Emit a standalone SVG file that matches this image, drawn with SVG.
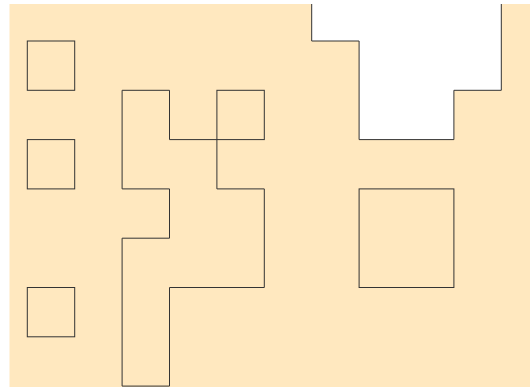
<svg xmlns="http://www.w3.org/2000/svg" width="530" height="387" viewBox="0 0 530 387">
<style>
.s{fill:none;stroke:#333;stroke-width:1}
</style>
<rect x="0" y="0" width="530" height="387" fill="#fff"/>
<rect id="ground" x="9.5" y="4" width="520.5" height="383" fill="#FFE8BF"/>
<g id="void">
<path d="M311.7,4 V41 H359.1 V139.6 H453.9 V90.3 H501.3 V4 Z" fill="#fff"/>
<path class="s" d="M311.7,4 V41 H359.1 V139.6 H453.9 V90.3 H501.3 V4"/>
</g>
<g id="sq1"><rect class="s" x="27.3" y="41" width="47.4" height="49.3"/></g>
<g id="sq2"><rect class="s" x="27.3" y="139.6" width="47.4" height="49.3"/></g>
<g id="sq3"><rect class="s" x="27.3" y="287.5" width="47.4" height="49.3"/></g>
<g id="big"><rect class="s" x="359.1" y="188.9" width="94.8" height="98.6"/></g>
<g id="poly"><path class="s" d="M122.1,90.3 H169.5 V139.6 H216.9 V188.9 H264.3 V287.5 H169.5 V386.1 H122.1 V238.2 H169.5 V188.9 H122.1 Z"/></g>
<g id="sq4"><rect class="s" x="216.9" y="90.3" width="47.4" height="49.3"/></g>
</svg>
